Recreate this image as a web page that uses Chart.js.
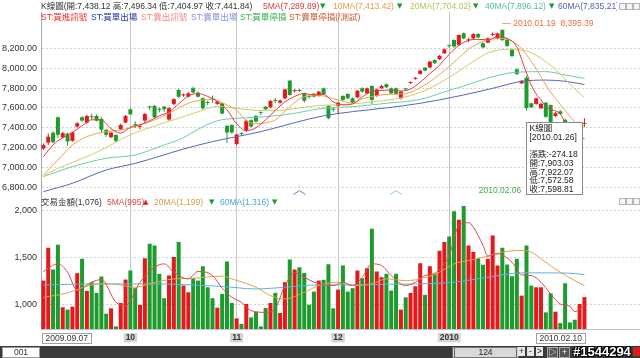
<!DOCTYPE html>
<html>
<head>
<meta charset="utf-8">
<script src="https://cdn.jsdelivr.net/npm/chart.js@4.4.1/dist/chart.umd.min.js"></script>
<style>
  html, body { margin:0; padding:0; background:#fff; }
  body { width:640px; height:358px; overflow:hidden; position:relative;
         font-family:"Liberation Sans","Noto Sans CJK TC",sans-serif; }
  canvas { position:absolute; left:0; }
  #cPrice { top:0; }
  #cVol { top:196px; }
  .lg { position:absolute; font-size:8.5px; line-height:10px; white-space:nowrap; }
  .tri { font-size:7px; font-family:"DejaVu Sans",sans-serif; }
  #row1 { position:absolute; left:0; top:0; width:617px; height:12px; overflow:hidden; }
  .ico { position:absolute; width:5px; height:5px; border:1px solid #b4b4b4; background:#f6f6f6; }
  #bar { position:absolute; left:0; top:346px; width:640px; height:12px; background:#3a3a3a; }
  .tb { position:absolute; top:347px; height:9px; font-size:8.5px; line-height:9px; text-align:center; }
</style>
</head>
<body>
<canvas id="cPrice" width="640" height="196"></canvas>
<canvas id="cVol" width="640" height="150"></canvas>

<div id="row1">
  <div class="lg" id="lgK" style="left:41px;top:1px;color:#333"></div>
  <div class="lg" id="lgM5" style="left:263px;top:1px;color:#e23a3a"></div>
  <div class="lg tri" style="left:320px;top:1px;color:#1e9b2e">▼</div>
  <div class="lg" id="lgM10" style="left:333px;top:1px;color:#f09848"></div>
  <div class="lg tri" style="left:397px;top:1px;color:#1e9b2e">▼</div>
  <div class="lg" id="lgM20" style="left:410px;top:1px;color:#b4c258"></div>
  <div class="lg tri" style="left:473px;top:1px;color:#1e9b2e">▼</div>
  <div class="lg" id="lgM40" style="left:485px;top:1px;color:#4fbf9f"></div>
  <div class="lg tri" style="left:549px;top:1px;color:#1e9b2e">▼</div>
  <div class="lg" id="lgM60" style="left:558px;top:1px;color:#5060b8"></div>
</div>
<div class="ico" style="left:619px;top:3px"></div>
<div class="ico" style="left:626px;top:3px"></div>
<div class="ico" style="left:633px;top:3px"></div>

<div class="lg" style="left:41px;top:12px;color:#e8302a">ST:買進訊號</div>
<div class="lg" style="left:91px;top:12px;color:#2434b0">ST:買單出場</div>
<div class="lg" style="left:141px;top:12px;color:#f08a88">ST:賣出訊號</div>
<div class="lg" style="left:191px;top:12px;color:#8a90e8">ST:賣單出場</div>
<div class="lg" style="left:240px;top:12px;color:#30b050">ST:買單停損</div>
<div class="lg" style="left:289px;top:12px;color:#d0582a">ST:賣單停損(/測試)</div>

<div class="lg" id="lgV" style="left:41px;top:197px;color:#333"></div>
<div class="lg" id="lgV5" style="left:107px;top:197px;color:#e04848"></div>
<div class="lg tri" style="left:143px;top:197px;color:#e3191c">▲</div>
<div class="lg" id="lgV20" style="left:154px;top:197px;color:#d89a48"></div>
<div class="lg tri" style="left:209px;top:197px;color:#1e9b2e">▼</div>
<div class="lg" id="lgV60" style="left:220px;top:197px;color:#4aa6d8"></div>
<div class="lg tri" style="left:272px;top:197px;color:#1e9b2e">▼</div>
<div class="ico" style="left:619px;top:198px"></div>
<div class="ico" style="left:626px;top:198px"></div>
<div class="ico" style="left:633px;top:198px"></div>

<div id="bar"></div>
<div class="tb" style="left:2px;width:36px;background:#fff;border:1px solid #999;color:#333">001</div>
<div class="tb" style="left:452px;width:61px;background:#d8d8d8;border:1px solid #777;color:#222;border-left:3px double #666;border-right:3px double #666;">124</div>
<div class="tb" style="left:518px;width:7px;background:#e8e8e8;color:#222">+</div>
<div class="tb" style="left:527px;width:7px;background:#e8e8e8;color:#222">-</div>
<div class="tb" style="left:536px;width:7px;background:#e8e8e8;color:#222">&gt;</div>
<div class="tb" style="left:547px;width:9px;background:#555;border:1px solid #aaa;color:#fff">▷</div>
<div class="tb" style="left:559px;width:9px;background:#555;border:1px solid #aaa;color:#fff">+</div>
<div class="tb" style="left:573px;width:60px;top:345px;height:13px;line-height:13px;font-size:13px;font-weight:bold;color:#fff;text-shadow:0 0 1px #000,1px 1px 0 #000,-1px -1px 0 #000,1px -1px 0 #000,-1px 1px 0 #000;text-align:left">#1544294</div>
<div class="tb" style="left:633px;width:7px;background:#d02020"></div>

<script>
// ---------------- DATA ----------------
const dates = [
 '2009.09.07','2009.09.08','2009.09.09','2009.09.10','2009.09.11','2009.09.14','2009.09.15','2009.09.16','2009.09.17','2009.09.18',
 '2009.09.21','2009.09.22','2009.09.23','2009.09.24','2009.09.25','2009.09.28','2009.09.29','2009.09.30',
 '2009.10.01','2009.10.02','2009.10.05','2009.10.06','2009.10.07','2009.10.08','2009.10.09','2009.10.12','2009.10.13','2009.10.14',
 '2009.10.15','2009.10.16','2009.10.19','2009.10.20','2009.10.21','2009.10.22','2009.10.23','2009.10.26','2009.10.27','2009.10.28',
 '2009.10.29','2009.10.30',
 '2009.11.02','2009.11.03','2009.11.04','2009.11.05','2009.11.06','2009.11.09','2009.11.10','2009.11.11','2009.11.12','2009.11.13',
 '2009.11.16','2009.11.17','2009.11.18','2009.11.19','2009.11.20','2009.11.23','2009.11.24','2009.11.25','2009.11.26','2009.11.27',
 '2009.11.30',
 '2009.12.01','2009.12.02','2009.12.03','2009.12.04','2009.12.07','2009.12.08','2009.12.09','2009.12.10','2009.12.11','2009.12.14',
 '2009.12.15','2009.12.16','2009.12.17','2009.12.18','2009.12.21','2009.12.22','2009.12.23','2009.12.24','2009.12.25','2009.12.28',
 '2009.12.29','2009.12.30','2009.12.31',
 '2010.01.04','2010.01.05','2010.01.06','2010.01.07','2010.01.08','2010.01.11','2010.01.12','2010.01.13','2010.01.14','2010.01.15',
 '2010.01.18','2010.01.19','2010.01.20','2010.01.21','2010.01.22','2010.01.25','2010.01.26','2010.01.27','2010.01.28','2010.01.29',
 '2010.02.01','2010.02.02','2010.02.03','2010.02.04','2010.02.05','2010.02.06','2010.02.08','2010.02.09','2010.02.10'
];
const opens = [
 7190,7250,7350,7505,7305,7340,7268,7412,7505,7452, 7512,7518,7488,7378,7305,7328,7385,7452,
 7585,7432,7410,7472,7612,7620,7586,7612,7482,7640, 7780,7725,7713,7798,7753,7698,7655,7690,7640,7645, 7418,7428,
 7235,7342,7370,7476,7518,7556,7612,7605,7674,7652, 7696,7874,7768,7776,7746,7715,7742,7720,7797,7620, 7588,
 7619,7720,7740,7696,7706,7798,7746,7820,7720,7798, 7838,7797,7797,7696,7790,7850,7893,7941,8005,8008, 8082,8090,8150,
 8228,8284,8233,8352,8280,8300,8344,8250,8257,8336, 8300,8384,8290,8190,7988,7847,7903.03,7646,7640,7595,
 7652,7629,7518,7565,7480,7200,7215,7250,7438.12
];
const highs = [
 7240,7345,7365,7512,7358,7352,7362,7456,7515,7530, 7540,7532,7510,7388,7360,7335,7440,7528,
 7598,7462,7432,7552,7622,7628,7600,7622,7610,7698, 7790,7745,7758,7812,7768,7705,7672,7725,7672,7650, 7425,7432,
 7340,7352,7480,7482,7528,7562,7620,7680,7700,7685, 7796,7880,7790,7790,7756,7728,7750,7772,7805,7625, 7600,
 7660,7728,7748,7705,7780,7808,7806,7828,7795,7832, 7845,7806,7806,7772,7800,7866,7910,7985,8012,8075, 8090,8132,8198,
 8240,8292,8342,8360,8305,8352,8355,8262,8310,8360, 8358,8395.39,8298,8198,7996,7880,7922.07,7652,7705,7650,
 7660,7635,7560,7575,7490,7230,7240,7460,7496.34
];
const lows = [
 7175,7225,7240,7300,7290,7218,7258,7400,7462,7440, 7480,7462,7352,7310,7295,7250,7375,7445,
 7528,7398,7385,7450,7578,7490,7555,7560,7470,7630, 7700,7712,7705,7748,7705,7580,7630,7652,7630,7535, 7245,7340,
 7218,7318,7360,7405,7455,7525,7578,7598,7650,7645, 7690,7722,7755,7760,7655,7695,7705,7712,7732,7485, 7560,
 7538,7672,7688,7645,7698,7755,7740,7640,7712,7790, 7800,7738,7732,7688,7772,7840,7884,7935,7968,8000, 8042,8082,8142,
 8205,8205,8225,8292,8262,8292,8302,8200,8250,8322, 8292,8275,8215,8112,7930,7840,7572.58,7598,7632,7588,
 7500,7445,7508,7530,7200,7080.09,7150,7240,7404.97
];
const closes = [
 7225,7310,7255,7330,7345,7262,7352,7445,7472,7518, 7505,7472,7380,7328,7350,7268,7428,7518,
 7535,7426,7420,7538,7605,7505,7580,7586,7596,7688, 7712,7732,7746,7756,7713,7596,7650,7684,7662,7542, 7352,7352,
 7333,7336,7471,7412,7462,7550,7586,7670,7670,7674, 7786,7730,7775,7771,7672,7710,7714,7763,7740,7496, 7582,
 7652,7680,7696,7652,7773,7764,7797,7680,7786,7820, 7808,7746,7740,7763,7786,7856,7899,7975,7976,8066, 8050,8124,8190,
 8222,8218,8334,8300,8290,8344,8310,8210,8300,8342, 8350,8283,8223,8122,7941,7872.99,7598.81,7605,7696,7640,
 7510,7455,7545,7540,7212,7160,7185,7450.6,7441.84
];
const volumes = [
 1252,1601,1370,1633,968,943,975,1331,1484,1142, 1235,1121,1295,900,957,765,1014,1263,
 1359,1171,993,1491,1644,1626,1324,1064,1306,1502, 1662,1199,1128,1277,1252,1405,1181,1064,964,1110, 1455,1014,
 850,790,1003,861,921,765,960,1014,1121,907, 1235,1477,1370,1395,1334,996,1135,1252,1260,1427, 957,
 1156,1413,1135,1171,1359,1277,1384,1804,1349,1288, 1324,1146,1324,943,1074,1121,1192,1437,1100,1405, 1324,1569,1662,
 1722,1989,1900,2046,1626,1555,1491,1420,1484,1733, 1413,1601,1423,1299,1484,1092,1626,1199,1181,1181,
 914,1117,921,800,1224,807,836,1003,1076
];
// moving averages: [candle index, value]
const ma5 = [[0,7108],[2,7226],[4,7300],[6,7350],[8,7420],[10,7480],[12,7478],[14,7390],[16,7345],[18,7405],[20,7430],[22,7470],[24,7520],[26,7560],[28,7640],[30,7720],[32,7745],[34,7715],[36,7665],[38,7580],[40,7440],[42,7370],[44,7400],[46,7480],[48,7575],[50,7660],[52,7715],[54,7745],[56,7730],[58,7735],[60,7660],[62,7630],[64,7640],[66,7710],[68,7765],[70,7775],[72,7780],[74,7770],[76,7790],[78,7860],[80,7945],[82,8030],[84,8140],[86,8230],[88,8280],[90,8290],[92,8285],[94,8315],[96,8300],[98,8215],[99,8088],[100,7952],[101,7830],[102,7740],[103,7683],[104,7612],[106,7570],[107,7540],[108,7455],[110,7330],[112,7289.89]];
const ma10 = [[0,6924],[3,7075],[6,7226],[9,7310],[13,7360],[16,7377],[19,7411],[23,7478],[26,7545],[28,7600],[31,7662],[35,7686],[38,7629],[40,7578],[42,7470],[44,7440],[46,7450],[48,7478],[51,7612],[54,7713],[57,7725],[61,7679],[64,7650],[66,7690],[71,7735],[75,7745],[79,7832],[83,7975],[86,8105],[88,8190],[90,8250],[92,8285],[95,8300],[98,8240],[100,8135],[102,7995],[104,7830],[106,7695],[108,7575],[110,7460],[112,7413.42]];
const ma20 = [[0,6920],[3,6990],[6,7050],[10,7130],[13,7200],[16,7280],[19,7350],[22,7400],[25,7450],[28,7495],[32,7560],[36,7615],[40,7595],[44,7575],[48,7572],[53,7600],[57,7625],[61,7630],[65,7645],[69,7665],[74,7700],[78,7755],[82,7850],[86,7970],[90,8100],[93,8170],[96,8190],[99,8185],[102,8130],[104,8065],[106,7990],[108,7890],[110,7790],[112,7704.02]];
const ma40 = [[0,6907],[6,7008],[13,7092],[19,7125],[24,7209],[29,7300],[32,7384],[36,7470],[40,7495],[46,7511],[52,7545],[57,7590],[64,7612],[71,7646],[78,7685],[83,7760],[87,7820],[93,7914],[98,7960],[104,7965],[108,7931],[112,7896.12]];
const ma60 = [[0,6756],[6,6840],[13,6974],[19,7041],[29,7185],[35,7260],[40,7310],[45,7360],[52,7451],[58,7520],[64,7562],[71,7600],[78,7646],[87,7730],[93,7797],[100,7874],[104,7880],[108,7868],[112,7835.21]];
const volMa5 = [[0,1349],[3,1430],[5,1341],[7,1146],[10,1235],[12,1263],[15,1021],[17,985],[20,1235],[23,1395],[25,1430],[27,1341],[30,1270],[32,1349],[35,1306],[37,1171],[39,1074],[41,1021],[43,932],[46,914],[48,957],[50,1199],[52,1334],[54,1288],[56,1235],[58,1206],[60,1199],[62,1235],[64,1199],[66,1288],[68,1430],[70,1413],[72,1306],[75,1199],[77,1235],[79,1306],[81,1330],[84,1519],[86,1840],[88,1868],[89,1822],[91,1626],[92,1512],[94,1537],[97,1448],[99,1313],[101,1306],[103,1235],[105,1110],[107,1003],[109,978],[110,921],[112,995]];
const volMa20 = [[0,1074],[5,1121],[10,1206],[14,1217],[19,1181],[22,1217],[27,1270],[31,1277],[37,1300],[39,1270],[44,1181],[47,1092],[50,1057],[54,1128],[57,1199],[61,1235],[64,1199],[68,1217],[71,1270],[75,1252],[78,1270],[82,1340],[85,1430],[88,1466],[92,1512],[95,1555],[99,1573],[101,1555],[103,1484],[107,1341],[110,1252],[112,1199]];
const volMa60 = [[0,1206],[12,1217],[22,1217],[37,1190],[44,1163],[50,1181],[57,1206],[64,1206],[71,1213],[78,1217],[85,1235],[92,1288],[99,1334],[104,1334],[109,1330],[112,1316]];

const priceTicks = [6800,7000,7200,7400,7600,7800,8000,8200];
const volTicks = [1000,1500,2000];
const monthStarts = ['2009.10.01','2009.11.02','2009.12.01','2010.01.04'];
const monthLabels = ['10','11','12','2010'];
const highDate = '2010.01.19';
const lowDate = '2010.02.06';
const cursorDate = '2010.01.26';
const crossMarks = [['2009.11.19','#6a78c8'],['2009.12.17','#7fd6c0']];
const visibleSlots = 124;

// ---------------- helpers ----------------
const FAM = '"Liberation Sans","Noto Sans CJK TC",sans-serif';
const RED = '#e3191c', GREEN = '#1e9b2e';
const fmt2 = v => v.toLocaleString('en-US',{minimumFractionDigits:2,maximumFractionDigits:2});
const fmt0 = v => Math.round(v).toLocaleString('en-US');
const labels = dates.concat(Array.from({length: visibleSlots - dates.length}, (_, k) => '~' + k));
const candleColors = closes.map((c, i) => c >= opens[i] ? RED : GREEN);
const toPts = arr => arr.map(([i, v]) => ({x: dates[i], y: v}));
const last = a => a[a.length - 1][1];
const gridMonth = ctx => (ctx.tick && monthStarts.includes(labels[ctx.index])) ? '#c6c6c6' : 'rgba(0,0,0,0)';
const noPadY = a => { a.width = 41; a.paddingTop = 0; a.paddingBottom = 0; };

// legends
const L = dates.length - 1;
document.getElementById('lgK').textContent = `K線圖(開:${fmt2(opens[L])} 高:${fmt2(highs[L])} 低:${fmt2(lows[L])} 收:${fmt2(closes[L])})`;
document.getElementById('lgM5').textContent = `5MA(${fmt2(last(ma5))})`;
document.getElementById('lgM10').textContent = `10MA(${fmt2(last(ma10))})`;
document.getElementById('lgM20').textContent = `20MA(${fmt2(last(ma20))})`;
document.getElementById('lgM40').textContent = `40MA(${fmt2(last(ma40))})`;
document.getElementById('lgM60').textContent = `60MA(${fmt2(last(ma60))})`;
document.getElementById('lgV').textContent = `交易金額(${fmt0(volumes[L])})`;
document.getElementById('lgV5').textContent = `5MA(${fmt0(last(volMa5))})`;
document.getElementById('lgV20').textContent = `20MA(${fmt0(last(volMa20))})`;
document.getElementById('lgV60').textContent = `60MA(${fmt0(last(volMa60))})`;

const lineDs = (arr, color) => ({type:'line', data: toPts(arr), borderColor: color, borderWidth: 1,
  pointRadius: 0, cubicInterpolationMode: 'monotone', order: 0});

// ---------------- price overlay plugin ----------------
const priceOverlay = {
  id: 'priceOverlay',
  afterDraw(chart) {
    const {ctx, chartArea, scales: {x, y}} = chart;
    ctx.save();
    ctx.font = '8.5px ' + FAM;
    // high marker
    const hi = dates.indexOf(highDate);
    ctx.fillStyle = '#e8743c'; ctx.textAlign = 'left'; ctx.textBaseline = 'bottom';
    ctx.fillText('— ' + highDate + '  ' + fmt2(highs[hi]), x.getPixelForValue(hi), y.getPixelForValue(highs[hi]) - 1);
    // low marker
    const lo = dates.indexOf(lowDate);
    ctx.fillStyle = '#48a848'; ctx.textAlign = 'right';
    ctx.fillText(lowDate + '  ' + fmt2(lows[lo]) + ' —', x.getPixelForValue(lo), chartArea.bottom - 1);
    // cross chevrons
    crossMarks.forEach(([d, col]) => {
      const cx = x.getPixelForValue(dates.indexOf(d)), cy = chartArea.bottom - 3;
      ctx.strokeStyle = col; ctx.lineWidth = 1; ctx.beginPath();
      ctx.moveTo(cx - 6, cy + 1.5); ctx.lineTo(cx, cy - 2.5); ctx.lineTo(cx + 6, cy + 1.5); ctx.stroke();
    });
    // cursor tooltip
    const ci = dates.indexOf(cursorDate);
    const bx = Math.round(x.getPixelForValue(ci)) + 0.5;
    const by = Math.round(y.getPixelForValue(lows[ci]) + 11) + 0.5;
    const bw = 56, bh = 72;
    ctx.fillStyle = '#fff'; ctx.fillRect(bx, by, bw, bh);
    ctx.strokeStyle = '#8a8a8a'; ctx.strokeRect(bx, by, bw, bh);
    ctx.fillStyle = '#222'; ctx.textAlign = 'left'; ctx.textBaseline = 'middle';
    const lines = [['K線圖', 6.5], ['[' + cursorDate + ']', 15],
      ['漲跌:' + fmt2(closes[ci] - closes[ci - 1]), 32], ['開:' + fmt2(opens[ci]), 41.5],
      ['高:' + fmt2(highs[ci]), 50], ['低:' + fmt2(lows[ci]), 58.5], ['收:' + fmt2(closes[ci]), 67]];
    lines.forEach(([t, dy]) => ctx.fillText(t, bx + 3, by + dy));
    ctx.restore();
  }
};

// ---------------- price chart ----------------
new Chart(document.getElementById('cPrice'), {
  type: 'bar',
  data: {
    labels,
    datasets: [
      lineDs(ma5, '#e23a3a'), lineDs(ma10, '#f0a050'), lineDs(ma20, '#cccc6a'),
      lineDs(ma40, '#6cccac'), lineDs(ma60, '#5566bb'),
      {type:'bar', data: opens.map((o, i) => [o, closes[i]]), backgroundColor: candleColors,
       barThickness: 4, minBarLength: 1, grouped: false, inflateAmount: 0, order: 1},
      {type:'bar', data: lows.map((l, i) => [l, highs[i]]), backgroundColor: candleColors,
       barThickness: 1, grouped: false, inflateAmount: 0, order: 2}
    ]
  },
  options: {
    responsive: false, animation: false, devicePixelRatio: 1, events: [],
    layout: {padding: {top: 12, left: 0, right: 0, bottom: 0}},
    plugins: {legend: {display: false}, tooltip: {enabled: false}},
    scales: {
      x: {type: 'category', offset: true,
          grid: {offset: false, color: gridMonth, drawTicks: false},
          border: {display: true, color: '#c4c4c4'},
          ticks: {display: false},
          afterFit: a => { a.height = 0; a.paddingLeft = 0; a.paddingRight = 0; }},
      y: {min: 6712, max: 8566, position: 'left',
          afterBuildTicks: a => { a.ticks = priceTicks.map(v => ({value: v})); },
          afterFit: noPadY,
          grid: {color: '#d2d2d2', drawTicks: false},
          border: {display: true, color: '#a8a8a8', dash: [2, 2]},
          ticks: {padding: 4, color: '#333', font: {size: 9, family: FAM}, callback: v => fmt2(v)}}
    }
  },
  plugins: [priceOverlay]
});

// ---------------- volume overlay plugin ----------------
const volOverlay = {
  id: 'volOverlay',
  afterDraw(chart) {
    const {ctx, chartArea, scales: {x}} = chart;
    ctx.save();
    ctx.font = '8.5px ' + FAM; ctx.textBaseline = 'middle'; ctx.textAlign = 'left';
    const box = (text, px, alignLeft) => {
      const w = Math.round(ctx.measureText(text).width + 6), h = 10;
      const left = Math.round(alignLeft ? px - 1 : px - w + 1) + 0.5;
      const top = Math.round(chartArea.bottom + 4) + 0.5;
      ctx.fillStyle = '#fff'; ctx.fillRect(left, top, w, h);
      ctx.strokeStyle = '#a0a0a0'; ctx.lineWidth = 1; ctx.strokeRect(left, top, w, h);
      ctx.fillStyle = '#333'; ctx.fillText(text, left + 3, top + h / 2 + 0.5);
    };
    box(dates[0], x.getPixelForValue(0), true);
    box(dates[L], x.getPixelForValue(L), false);
    ctx.restore();
  }
};

// ---------------- volume chart ----------------
new Chart(document.getElementById('cVol'), {
  type: 'bar',
  data: {
    labels,
    datasets: [
      lineDs(volMa5, '#e04848'), lineDs(volMa20, '#e0a448'), lineDs(volMa60, '#5cb2e2'),
      {type:'bar', data: volumes, backgroundColor: candleColors, barThickness: 4,
       inflateAmount: 0, order: 1}
    ]
  },
  options: {
    responsive: false, animation: false, devicePixelRatio: 1, events: [],
    layout: {padding: 0},
    plugins: {legend: {display: false}, tooltip: {enabled: false}},
    scales: {
      x: {type: 'category', offset: true,
          grid: {offset: false, color: gridMonth, drawTicks: false},
          border: {display: true, color: '#c4c4c4'},
          ticks: {autoSkip: false, maxRotation: 0, minRotation: 0, maxTicksLimit: 500, padding: 4,
                  color: '#333', font: {size: 8.5, weight: 'bold', family: FAM, lineHeight: 1.1},
                  showLabelBackdrop: true,
                  backdropColor: ctx => monthStarts.includes(labels[ctx.index]) ? '#d4d4d4' : 'rgba(0,0,0,0)',
                  backdropPadding: {left: 2, right: 2, top: 0, bottom: 0},
                  callback: function (value) {
                    const k = monthStarts.indexOf(this.getLabelForValue(value));
                    return k >= 0 ? monthLabels[k] : '';
                  }},
          afterFit: a => { a.height = 17; a.paddingLeft = 0; a.paddingRight = 0; }},
      y: {min: 737, max: 2152, position: 'left',
          afterBuildTicks: a => { a.ticks = volTicks.map(v => ({value: v})); },
          afterFit: noPadY,
          grid: {color: '#d2d2d2', drawTicks: false},
          border: {display: true, color: '#a8a8a8', dash: [2, 2]},
          ticks: {padding: 4, color: '#333', font: {size: 9, family: FAM}, callback: v => fmt0(v)}}
    }
  },
  plugins: [volOverlay]
});
</script>
</body>
</html>
